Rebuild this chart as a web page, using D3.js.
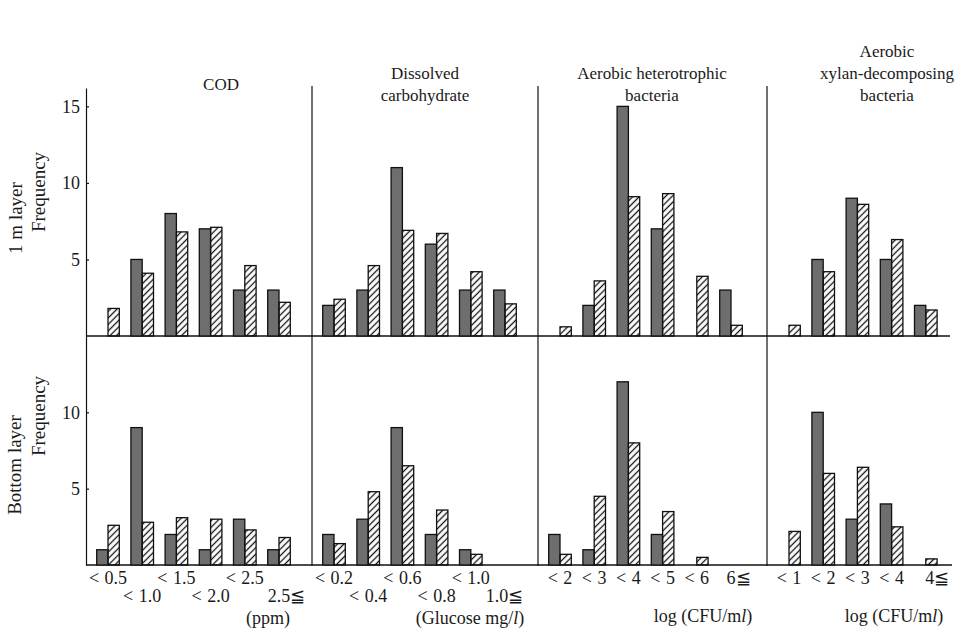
<!DOCTYPE html>
<html lang="en">
<head>
<meta charset="UTF-8">
<title>Frequency distributions, 1 m layer and bottom layer</title>
<script src="https://d3js.org/d3.v7.min.js"></script>
<style>
  body { margin: 0; background: #fff; }
  .tick line, .domain { stroke: #111; stroke-width: 1.2; }
</style>
</head>
<body>
<div id="chart"></div>
<script>
// category labels per panel
const codCats  = ["< 0.5", "< 1.0", "< 1.5", "< 2.0", "< 2.5", "2.5≦"];
const carbCats = ["< 0.2", "< 0.4", "< 0.6", "< 0.8", "< 1.0", "1.0≦"];
const hetCats  = ["< 2", "< 3", "< 4", "< 5", "< 6", "6≦"];
const xylCats  = ["< 1", "< 2", "< 3", "< 4", "4≦"];

// 1 m layer (solid = grey bars, hatched = striped bars)
const cod1mSolid    = [0, 5, 8, 7, 3, 3];
const cod1mHatched  = [1.8, 4.1, 6.8, 7.1, 4.6, 2.2];
const carb1mSolid   = [2, 3, 11, 6, 3, 3];
const carb1mHatched = [2.4, 4.6, 6.9, 6.7, 4.2, 2.1];
const het1mSolid    = [0, 2, 15, 7, 0, 3];
const het1mHatched  = [0.6, 3.6, 9.1, 9.3, 3.9, 0.7];
const xyl1mSolid    = [0, 5, 9, 5, 2];
const xyl1mHatched  = [0.7, 4.2, 8.6, 6.3, 1.7];

// bottom layer
const codBotSolid    = [1, 9, 2, 1, 3, 1];
const codBotHatched  = [2.6, 2.8, 3.1, 3.0, 2.3, 1.8];
const carbBotSolid   = [2, 3, 9, 2, 1, 0];
const carbBotHatched = [1.4, 4.8, 6.5, 3.6, 0.7, 0];
const hetBotSolid    = [2, 1, 12, 2, 0, 0];
const hetBotHatched  = [0.7, 4.5, 8.0, 3.5, 0.5, 0];
const xylBotSolid    = [0, 10, 3, 4, 0];
const xylBotHatched  = [2.2, 6.0, 6.4, 2.5, 0.4];

const topTicks = [5, 10, 15];
const botTicks = [5, 10];

const panels = [
  { cats: codCats,  title: ["COD"], titleX: 221, titleY: 90,
    top: [cod1mSolid, cod1mHatched], bot: [codBotSolid, codBotHatched],
    unit: ["(ppm)"], unitX: 268, unitY: 624, stagger: true, geShift: 0 },
  { cats: carbCats, title: ["Dissolved", "carbohydrate"], titleX: 425, titleY: 79,
    top: [carb1mSolid, carb1mHatched], bot: [carbBotSolid, carbBotHatched],
    unit: ["(Glucose mg/", "l", ")"], unitX: 470, unitY: 624, stagger: true, geShift: -8 },
  { cats: hetCats,  title: ["Aerobic heterotrophic", "bacteria"], titleX: 652, titleY: 79,
    top: [het1mSolid, het1mHatched], bot: [hetBotSolid, hetBotHatched],
    unit: ["log (CFU/m", "l", ")"], unitX: 703, unitY: 622, stagger: false, geShift: 0 },
  { cats: xylCats,  title: ["Aerobic", "xylan-decomposing", "bacteria"], titleX: 887, titleY: 57,
    top: [xyl1mSolid, xyl1mHatched], bot: [xylBotSolid, xylBotHatched],
    unit: ["log (CFU/m", "l", ")"], unitX: 894, unitY: 622, stagger: false, geShift: 4 }
];

const INK = "#1a1a1a";
const width = 957, height = 631;
const edges = [86, 312, 538, 767, 950];

const svg = d3.select("#chart").append("svg")
  .attr("width", width)
  .attr("height", height)
  .attr("font-family", "Liberation Serif");

// helper for plain serif text
function label(sel, size) {
  return sel.append("text")
    .attr("font-family", "Liberation Serif")
    .attr("font-size", size)
    .attr("fill", INK);
}

// diagonal hatch
svg.append("defs").append("pattern")
  .attr("id", "hatch")
  .attr("patternUnits", "userSpaceOnUse")
  .attr("width", 4.6).attr("height", 4.6)
  .attr("patternTransform", "rotate(45)")
  .append("line")
  .attr("x1", 2.3).attr("y1", 0).attr("x2", 2.3).attr("y2", 4.6)
  .attr("stroke", "#111").attr("stroke-width", 1.3);

const yTop = d3.scaleLinear().domain([0, 16.2]).range([336, 88]);
const yBot = d3.scaleLinear().domain([0, 15]).range([565, 336]);
const sub = d3.scaleBand().domain(["solid", "hatched"]).range([-11.3, 11.3]);

// y axes
[[yTop, topTicks], [yBot, botTicks]].forEach(([y, ticks]) => {
  svg.append("g")
    .attr("transform", "translate(86,0)")
    .call(d3.axisLeft(y).tickValues(ticks).tickSizeInner(-3).tickSizeOuter(0).tickPadding(6))
    .attr("font-family", "Liberation Serif")
    .attr("font-size", 18);
});
svg.selectAll(".tick text").attr("fill", INK);

// y axis labels
const ylabs = [
  ["1 m layer", 22, 218], ["Frequency", 45, 192],
  ["Bottom layer", 21, 465], ["Frequency", 45, 416]
];
ylabs.forEach(d => {
  label(svg, 19)
    .attr("transform", `translate(${d[1]},${d[2]}) rotate(-90)`)
    .attr("text-anchor", "middle")
    .text(d[0]);
});

// baselines and dividers
svg.append("line").attr("x1", 86).attr("x2", 950).attr("y1", yTop(0)).attr("y2", yTop(0))
  .attr("stroke", "#111").attr("stroke-width", 1.3);
svg.append("line").attr("x1", 86).attr("x2", 952).attr("y1", yBot(0)).attr("y2", yBot(0))
  .attr("stroke", "#111").attr("stroke-width", 1.3);
edges.slice(1, 4).forEach(e => {
  svg.append("line").attr("x1", e).attr("x2", e).attr("y1", 86).attr("y2", 566)
    .attr("stroke", "#111").attr("stroke-width", 1.2);
});

panels.forEach((p, i) => {
  const x0 = edges[i];
  const n = p.cats.length;
  const x = d3.scalePoint()
    .domain(p.cats)
    .range([x0 + 22, x0 + 22 + 34.2 * (n - 1)]);

  // title, one text per line
  p.title.forEach((line, k) => {
    label(svg, 17)
      .attr("x", p.titleX).attr("y", p.titleY + 22 * k)
      .attr("text-anchor", "middle")
      .text(line);
  });

  // bars
  [[p.top, yTop], [p.bot, yBot]].forEach(([series, y]) => {
    const rows = [];
    p.cats.forEach((c, j) => {
      rows.push({ c, s: "solid", v: series[0][j] });
      rows.push({ c, s: "hatched", v: series[1][j] });
    });
    svg.append("g")
      .selectAll("rect")
      .data(rows.filter(d => d.v > 0))
      .enter()
      .append("rect")
      .attr("x", d => x(d.c) + sub(d.s))
      .attr("y", d => y(d.v))
      .attr("width", sub.bandwidth())
      .attr("height", d => y(0) - y(d.v))
      .attr("fill", d => d.s === "solid" ? "#6e6e6e" : "url(#hatch)")
      .attr("stroke", "#111")
      .attr("stroke-width", 1.3);
  });

  // category labels
  p.cats.forEach((c, j) => {
    const ly = p.stagger ? (j % 2 === 0 ? 584 : 602) : 584;
    const lab = label(svg, 18).attr("y", ly).attr("word-spacing", 1);
    if (c.endsWith("≦")) {
      lab.text(c.slice(0, -1));
      const w = lab.node().getComputedTextLength();
      lab.attr("x", x(c) - w / 2 + p.geShift).attr("text-anchor", "start").text(c);
    } else {
      lab.attr("x", x(c)).attr("text-anchor", "middle").text(c);
    }
  });

  // unit label
  const u = label(svg, 18)
    .attr("x", p.unitX).attr("y", p.unitY)
    .attr("text-anchor", "middle");
  p.unit.forEach((part, k) => {
    u.append("tspan").attr("font-style", k === 1 ? "italic" : "normal").text(part);
  });
});
</script>
</body>
</html>
